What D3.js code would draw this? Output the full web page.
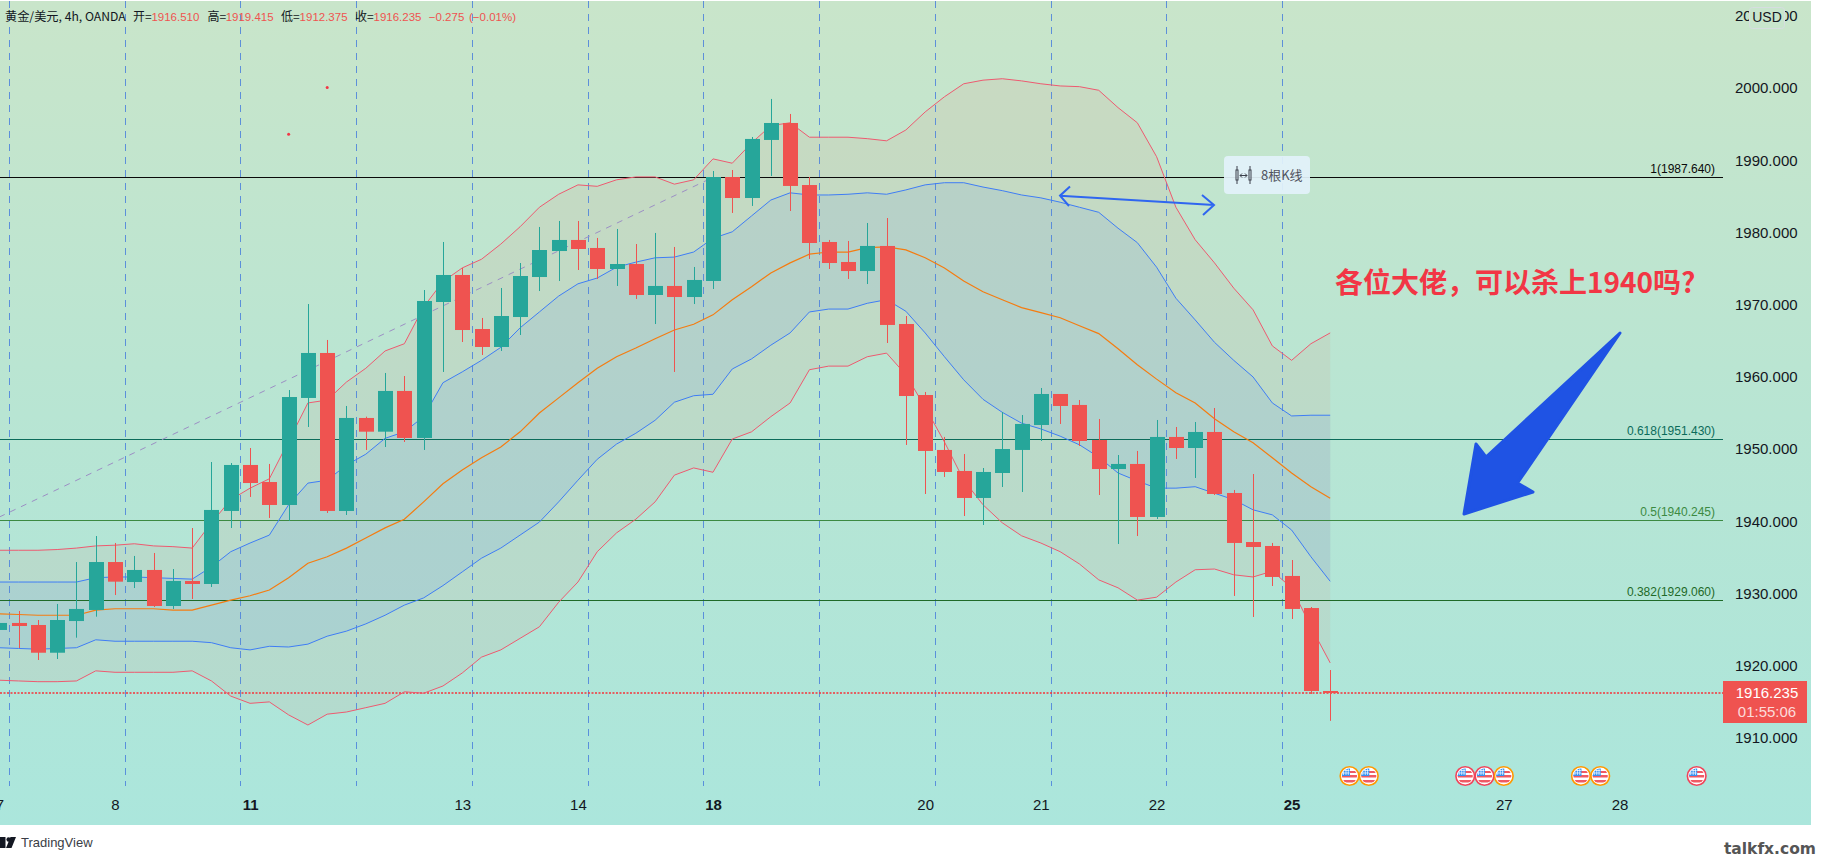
<!DOCTYPE html>
<html><head><meta charset="utf-8">
<style>html,body{margin:0;padding:0;background:#fff;overflow:hidden}svg{display:block}text{font-family:"Liberation Sans",Arial,sans-serif}</style>
<script src="https://cdn.jsdelivr.net/npm/d3@7"></script></head><body>
<script>
const opens=[1924.96,1925.93,1925.65,1921.81,1926.20,1927.73,1934.37,1931.60,1933.27,1928.28,1931.74,1931.33,1941.44,1947.81,1945.45,1942.27,1957.09,1963.32,1941.44,1954.32,1952.42,1958.06,1951.55,1970.38,1974.12,1966.64,1964.15,1968.30,1973.84,1977.44,1978.97,1977.86,1974.95,1975.64,1971.35,1972.60,1971.07,1973.29,1987.69,1984.78,1992.82,1995.17,1986.58,1978.69,1975.92,1974.67,1978.14,1967.33,1957.50,1949.89,1946.98,1943.24,1946.70,1949.89,1953.35,1957.64,1956.12,1951.27,1947.25,1947.95,1940.61,1951.69,1950.16,1952.38,1943.93,1937.14,1936.59,1932.44,1928.00,1916.51];
const highs=[1926.76,1927.59,1926.34,1928.56,1934.37,1937.97,1937.01,1935.21,1935.62,1933.40,1939.08,1948.22,1948.08,1950.16,1947.95,1958.19,1970.10,1965.12,1955.98,1954.50,1960.55,1960.13,1972.04,1978.69,1975.09,1968.17,1972.32,1975.78,1980.77,1981.60,1981.60,1979.25,1980.49,1978.41,1979.94,1978.00,1975.23,1988.52,1988.66,1993.23,1998.50,1996.42,1987.69,1978.97,1978.83,1981.32,1982.01,1968.44,1957.92,1951.69,1949.33,1947.39,1955.15,1954.73,1958.47,1957.64,1956.81,1954.18,1949.19,1949.75,1954.04,1953.07,1953.76,1955.70,1944.35,1946.56,1937.01,1934.65,1928.14,1919.415];
const lows=[1923.57,1922.46,1920.80,1920.94,1923.89,1926.80,1929.80,1930.77,1928.14,1927.87,1929.25,1930.91,1939.08,1943.38,1940.47,1940.09,1953.07,1941.16,1940.88,1949.89,1950.30,1950.99,1949.89,1960.69,1964.84,1963.04,1963.60,1965.81,1971.90,1973.29,1974.81,1973.57,1972.60,1970.80,1967.33,1960.69,1970.10,1972.18,1982.71,1983.68,1987.83,1982.98,1976.34,1974.95,1973.57,1972.87,1964.70,1950.58,1943.79,1946.15,1940.74,1939.50,1944.76,1944.07,1951.13,1953.49,1950.44,1943.65,1936.87,1937.97,1940.33,1948.64,1946.01,1943.65,1929.67,1926.76,1931.05,1926.48,1916.09,1912.375];
const closes=[1925.93,1925.51,1921.81,1926.34,1927.87,1934.37,1931.65,1933.27,1928.28,1931.74,1931.33,1941.58,1947.81,1945.31,1942.27,1957.22,1963.32,1941.44,1954.32,1952.42,1958.06,1951.55,1970.52,1974.12,1966.50,1964.15,1968.44,1973.98,1977.58,1978.97,1977.72,1974.95,1975.64,1971.35,1972.60,1971.07,1973.43,1987.69,1984.78,1992.96,1995.17,1986.45,1978.55,1975.78,1974.67,1978.14,1967.20,1957.36,1949.75,1946.84,1943.24,1946.84,1950.02,1953.49,1957.64,1955.98,1951.13,1947.25,1947.95,1940.61,1951.69,1950.16,1952.38,1943.79,1937.01,1936.45,1932.30,1927.87,1916.51,1916.235];
const bandUpperOuter=[1936.0,1936.0,1936.0,1936.1,1936.3,1936.6,1936.7,1936.9,1936.6,1936.5,1936.3,1939.8,1943.0,1944.6,1945.9,1951.1,1956.4,1956.8,1959.3,1961.2,1963.6,1964.6,1969.7,1973.2,1975.1,1976.3,1978.4,1980.8,1983.5,1985.3,1986.6,1986.4,1987.3,1987.7,1987.7,1986.7,1987.3,1990.2,1989.6,1992.4,1994.8,1995.2,1993.2,1993.2,1993.2,1993.0,1992.7,1994.2,1996.7,1998.8,2000.6,2001.1,2001.3,2001.0,2000.6,2000.3,2000.2,1999.7,1997.3,1995.2,1990.5,1983.5,1979.0,1975.8,1972.3,1969.3,1964.3,1962.3,1964.6,1966.1];
const bandUpperInner=[1931.6,1931.6,1931.6,1931.6,1931.6,1932.2,1932.3,1932.3,1932.2,1932.1,1932.0,1933.7,1935.8,1937.0,1938.1,1942.3,1945.3,1945.7,1947.8,1949.3,1951.5,1952.4,1954.5,1959.2,1960.7,1962.3,1964.1,1966.8,1969.0,1971.2,1972.9,1973.7,1975.2,1975.9,1976.5,1976.6,1977.3,1979.2,1980.1,1982.3,1984.5,1985.5,1985.2,1985.2,1985.3,1985.5,1985.3,1985.9,1986.6,1986.9,1986.9,1986.3,1985.8,1985.2,1984.8,1984.2,1983.5,1982.8,1980.6,1978.6,1975.2,1970.9,1967.9,1964.8,1962.3,1960.0,1956.4,1954.6,1954.7,1954.7];
const bandMiddle=[1927.2,1927.1,1927.0,1927.0,1927.0,1927.7,1927.9,1927.9,1927.9,1927.7,1927.7,1928.4,1929.1,1929.7,1930.5,1932.2,1934.2,1935.1,1936.3,1937.7,1939.1,1940.3,1942.7,1945.2,1947.1,1948.8,1950.3,1952.4,1955.0,1957.1,1959.2,1961.2,1962.8,1964.0,1965.3,1966.5,1967.3,1968.6,1970.7,1972.5,1974.4,1975.8,1977.0,1977.3,1977.3,1977.9,1978.0,1977.6,1976.5,1975.1,1973.3,1971.8,1970.7,1969.6,1968.9,1968.2,1967.1,1966.0,1963.9,1961.7,1959.7,1957.8,1956.4,1954.2,1952.4,1950.9,1948.8,1946.7,1944.8,1943.2];
const bandLowerInner=[1922.5,1922.4,1922.3,1922.4,1922.5,1923.6,1923.4,1923.4,1923.4,1923.4,1923.4,1923.2,1922.5,1922.2,1922.7,1922.6,1923.0,1924.1,1924.8,1925.8,1927.0,1928.4,1929.4,1931.1,1933.0,1934.9,1936.3,1938.1,1939.9,1942.7,1945.7,1948.6,1950.7,1952.2,1954.0,1956.5,1957.4,1957.6,1961.1,1962.5,1964.4,1966.1,1969.0,1969.4,1969.4,1970.2,1970.7,1969.1,1966.1,1962.8,1959.6,1956.9,1955.1,1953.6,1952.8,1951.8,1950.6,1948.9,1946.7,1945.6,1944.6,1944.6,1944.8,1943.9,1943.0,1941.6,1940.9,1938.8,1935.1,1931.7];
const bandLowerOuter=[1918.0,1917.9,1917.8,1917.8,1917.9,1919.3,1919.1,1919.1,1919.1,1919.1,1919.3,1917.9,1915.8,1914.8,1915.0,1913.2,1911.8,1913.3,1913.6,1914.2,1914.8,1916.4,1916.2,1917.2,1919.0,1921.2,1922.2,1923.8,1925.4,1928.8,1931.6,1935.8,1938.4,1940.3,1942.7,1946.4,1947.4,1946.8,1951.4,1952.4,1954.5,1956.4,1961.0,1961.5,1961.5,1962.8,1963.3,1960.3,1955.8,1951.0,1945.7,1942.3,1939.8,1938.0,1937.0,1935.8,1934.1,1931.9,1930.8,1929.1,1929.5,1931.6,1933.3,1933.4,1932.6,1932.3,1933.1,1930.8,1925.4,1920.4];
const priceTicks=[1910,1920,1930,1940,1950,1960,1970,1980,1990,2000,2010];
const dayIndex=[0,6,13,24,30,37,48,54,60,67,78,84];
const dayLabels=["7","8","11","13","14","18","20","21","22","25","27","28"];
const boldDays=["11","18","25"];
const sessionLines=[0.5,6.5,12.5,18.5,24.5,30.5,36.5,42.5,48.5,54.5,60.5,66.5];
const fibRatios=["1","0.618","0.5","0.382"];
const fibPrices=[1987.64,1951.43,1940.245,1929.06];
const fibColors=["#0a0a0a","#0b6b5a","#3c8a42","#1f6a28"];
const trendIndex=[0,37];
const trendPrice=[1940.6,1987.64];
const dotIndex=[15,17];
const dotPrice=[1993.6,2000.1];
const eventIndex=[70,71,76,77,78,82,83,88];
const eventKind=["o","o","r","r","o","o","o","r"];
const openLast=1916.51;
const lastClose=1916.235;

const W=1821,H=860,chartR=1811,chartB=825,axisL=1723;
const x=d3.scaleLinear().domain([0,69]).range([-0.7,1330.2]);
const y=d3.scaleLinear().domain([1910,2010]).range([738,15.9]);
const svg=d3.select("body").append("svg").attr("width",W).attr("height",H);
const defs=svg.append("defs");
const g=defs.append("linearGradient").attr("id","bg").attr("x1",0).attr("y1",0).attr("x2",0).attr("y2",1);
g.append("stop").attr("offset",0).attr("stop-color","#c9e5ca");
g.append("stop").attr("offset",.5).attr("stop-color","#b8e5d3");
g.append("stop").attr("offset",1).attr("stop-color","#abe6dc");
defs.append("clipPath").attr("id","plot").append("rect").attr("x",0).attr("y",0).attr("width",chartR).attr("height",chartB);
defs.append("clipPath").attr("id","evt").append("circle").attr("r",7.6);

svg.append("rect").attr("x",0).attr("y",1).attr("width",chartR).attr("height",chartB-1).attr("fill","url(#bg)");
const root=svg.append("g").attr("clip-path","url(#plot)");
const idx=d3.range(opens.length);

// band fills
const area=(a,b)=>d3.area().x(i=>x(i)).y0(i=>y(a[i])).y1(i=>y(b[i]))(idx);
root.append("path").attr("d",area(bandUpperOuter,bandLowerOuter)).attr("fill","#ef5350").attr("fill-opacity",.08);
root.append("path").attr("d",area(bandUpperInner,bandLowerInner)).attr("fill","#2979ff").attr("fill-opacity",.08);

// session lines
root.selectAll(".sess").data(sessionLines).join("line")
 .attr("x1",d=>Math.round(x(d))+.5).attr("x2",d=>Math.round(x(d))+.5).attr("y1",1).attr("y2",786)
 .attr("stroke","#4a80dc").attr("stroke-width",1).attr("stroke-opacity",.85).attr("stroke-dasharray","7 6");

// fib lines
root.selectAll(".fib").data(fibPrices).join("line")
 .attr("x1",0).attr("x2",axisL).attr("y1",d=>Math.round(y(d))+.5).attr("y2",d=>Math.round(y(d))+.5)
 .attr("stroke",(d,i)=>fibColors[i]).attr("stroke-width",1.2);
root.selectAll(".fibl").data(fibPrices).join("text")
 .attr("x",1715).attr("y",d=>y(d)-4).attr("text-anchor","end").attr("font-size",12)
 .attr("fill",(d,i)=>fibColors[i]).text((d,i)=>`${fibRatios[i]}(${d.toFixed(3)})`);

// trend
root.append("line").attr("x1",x(trendIndex[0])).attr("x2",x(trendIndex[1])).attr("y1",y(trendPrice[0])).attr("y2",y(trendPrice[1]))
 .attr("stroke","#9c8fc4").attr("stroke-width",1).attr("stroke-dasharray","6 6");

// last price line
root.append("line").attr("x1",0).attr("x2",axisL).attr("y1",Math.round(y(lastClose))).attr("y2",Math.round(y(lastClose)))
 .attr("stroke","#f5333a").attr("stroke-width",1.5).attr("stroke-dasharray","2 1.5");

// bands
const ln=a=>d3.line().x(i=>x(i)).y(i=>y(a[i]))(idx);
[[bandUpperOuter,"#ee5a70",1],[bandLowerOuter,"#ee5a70",1],[bandUpperInner,"#3f7df5",1],[bandLowerInner,"#3f7df5",1],[bandMiddle,"#f57c10",1.2]]
 .forEach(([a,c,w])=>root.append("path").attr("d",ln(a)).attr("fill","none").attr("stroke",c).attr("stroke-width",w));

// candles
const up="#26a69a",dn="#ef5350";
const col=i=>closes[i]>=opens[i]?up:dn;
root.selectAll(".wick").data(idx).join("line")
 .attr("x1",i=>Math.round(x(i))+.5).attr("x2",i=>Math.round(x(i))+.5)
 .attr("y1",i=>y(highs[i])).attr("y2",i=>y(lows[i])).attr("stroke",col).attr("stroke-width",1);
root.selectAll(".body").data(idx).join("rect")
 .attr("x",i=>Math.round(x(i))-7).attr("width",15)
 .attr("y",i=>y(Math.max(opens[i],closes[i])))
 .attr("height",i=>Math.max(1.5,Math.abs(y(opens[i])-y(closes[i])))).attr("fill",col);

// stray dots
root.selectAll(".dot").data(dotIndex).join("circle").attr("cx",d=>x(d)).attr("cy",(d,i)=>y(dotPrice[i])).attr("r",1.5).attr("fill","#f23645");

// thin double arrow
const blue="#2f66f0";
root.append("path").attr("d","M1060,195.7L1214,205M1070,186.5L1060,195.7L1069,206M1202,195L1214,205L1203,215")
 .attr("fill","none").attr("stroke",blue).attr("stroke-width",2);

// bars-count box
root.append("rect").attr("x",1224).attr("y",156).attr("width",86).attr("height",38).attr("rx",4).attr("fill","#e2f2fa").attr("fill-opacity",.93);
const ic=root.append("g").attr("stroke","#3a3f4a").attr("fill","none").attr("stroke-width",1);
ic.append("rect").attr("x",1236).attr("y",170).attr("width",2).attr("height",10);
ic.append("rect").attr("x",1249).attr("y",170).attr("width",2).attr("height",10);
ic.append("path").attr("d","M1237,166V170M1237,180V184M1250,166V170M1250,180V184M1240,175.5H1247M1242,173.5L1240,175.5L1242,177.5M1245,173.5L1247,175.5L1245,177.5");
root.append("text").attr("x",1261).attr("y",180).attr("font-size",13).attr("fill","#50535e").style("font-family",'"Noto Sans CJK SC"').text("8根K线");

// annotation
root.append("text").attr("x",1335).attr("y",293).attr("font-size",28).attr("font-weight",700).attr("fill","#f23645")
 .style("font-family",'"Noto Sans CJK SC"').text("各位大佬，可以杀上1940吗?");

// big arrow
root.append("path").attr("d","M1464,514L1476,444L1486,457L1620,333L1517.5,483L1533,492Z")
 .attr("fill","#1f53e4").attr("stroke","#1f53e4").attr("stroke-width",3).attr("stroke-linejoin","round");

// axes
const yAxis=d3.axisRight(y).tickValues(priceTicks).tickFormat(d3.format(".3f")).tickSize(0).tickPadding(0);
const ya=root.append("g").attr("transform","translate(1735,0)").call(yAxis);
ya.select(".domain").remove();
ya.selectAll("text").attr("font-size",15).attr("fill","#131722").style("font-family",'"Liberation Sans"');
const xAxis=d3.axisBottom(x).tickValues(dayIndex).tickFormat((d,i)=>dayLabels[i]).tickSize(0).tickPadding(0);
const xa=root.append("g").attr("transform","translate(0,799)").call(xAxis);
xa.select(".domain").remove();
xa.selectAll("text").attr("font-size",15).attr("fill","#131722").style("font-family",'"Liberation Sans"')
 .attr("font-weight",function(d,i){return boldDays.includes(dayLabels[i])?700:400});

// USD box
root.append("rect").attr("x",1749.5).attr("y",7.5).attr("width",35).attr("height",21).attr("rx",3).attr("fill","#c8e5cc").attr("stroke","#d6dde0");
root.append("text").attr("x",1767).attr("y",22).attr("text-anchor","middle").attr("font-size",14).attr("fill","#131722").text("USD");

// price label
root.append("rect").attr("x",axisL).attr("y",681).attr("width",84).attr("height",42).attr("fill","#ef5350");
root.append("text").attr("x",1767).attr("y",698).attr("text-anchor","middle").attr("font-size",15).attr("fill","#fff").text(lastClose.toFixed(3));
root.append("text").attr("x",1767).attr("y",717).attr("text-anchor","middle").attr("font-size",15).attr("fill","#fff").attr("fill-opacity",.8).text("01:55:06");

// event icons
const ev=root.selectAll(".ev").data(eventIndex).join("g").attr("transform",d=>`translate(${x(d)},776)`);
ev.append("circle").attr("r",9.3).attr("fill","#fff").attr("stroke",(d,i)=>eventKind[i]==="o"?"#ff9800":"#f0445a").attr("stroke-width",1.6);
const flag=ev.append("g").attr("clip-path","url(#evt)");
flag.append("rect").attr("x",-10).attr("y",-1).attr("width",20).attr("height",2.5).attr("fill","#ef5a64");
flag.append("rect").attr("x",-10).attr("y",4).attr("width",20).attr("height",2.5).attr("fill","#ef5a64");
flag.append("rect").attr("x",0).attr("y",-5).attr("width",10).attr("height",2).attr("fill","#ef5a64");
flag.append("rect").attr("x",-10).attr("y",-10).attr("width",10.5).attr("height",10).attr("fill","#3590f0");
flag.append("path").attr("d","M-6,-7V-1M-3.5,-7V-1M-1.2,-7V-1M-8,-5.5H0M-8,-3H0").attr("stroke","#fff").attr("stroke-width",.7);

// header
const hdr=svg.append("g");
hdr.append("text").attr("x",5).attr("y",21).attr("font-size",12.2).attr("fill","#131722").style("font-family",'"Noto Sans CJK SC"').text("黄金/美元, 4h, OANDA");
const lbl=[["开=",133,openLast,151.4],["高=",207.4,highs[69],225.7],["低=",281,lows[69],299.6],["收=",355,lastClose,373.5]];
lbl.forEach(([t,a,v,b])=>{
 hdr.append("text").attr("x",a).attr("y",21).attr("font-size",12).attr("fill","#131722").style("font-family",'"Noto Sans CJK SC"').text(t);
 hdr.append("text").attr("x",b).attr("y",21).attr("font-size",11.5).attr("fill","#ef5350").text(v.toFixed(3));
});
hdr.append("text").attr("x",428.8).attr("y",21).attr("font-size",11.5).attr("fill","#ef5350").text("−0.275");
hdr.append("text").attr("x",469).attr("y",21).attr("font-size",11.5).attr("fill","#ef5350").text("(−0.01%)");

// footer
svg.append("path").attr("d","M0,837H5.5V848H0Z").attr("fill","#131722");
svg.append("circle").attr("cx",8.6).attr("cy",839.5).attr("r",2.2).attr("fill","#131722");
svg.append("path").attr("d","M10.5,837H16L11.5,848H6Z").attr("fill","#131722");
svg.append("text").attr("x",21).attr("y",847).attr("font-size",13).attr("fill","#3a3d45").text("TradingView");
svg.append("text").attr("x",1816).attr("y",854).attr("text-anchor","end").attr("font-size",15.5).attr("font-weight",700).attr("fill","#555").style("font-family",'"DejaVu Sans"').text("talkfx.com");
</script></body></html>
